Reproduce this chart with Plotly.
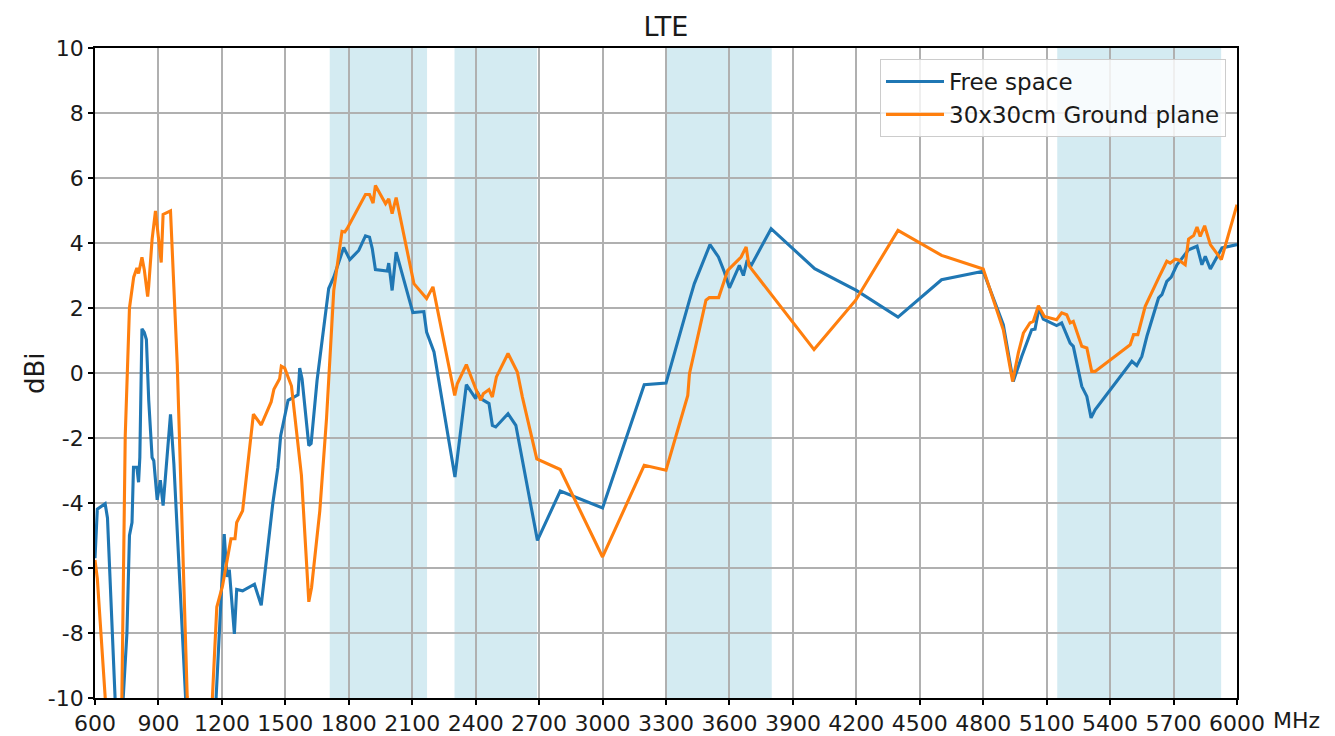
import plotly.graph_objects as go

# ---- data ----
free_freq = [600, 611, 648, 659, 695, 700, 728, 751, 763, 775, 782, 798, 806, 812, 822, 833, 843,
             854, 870, 878, 894, 909, 922, 957, 973, 1028, 1040, 1165, 1176, 1211, 1224, 1235,
             1259, 1270, 1298, 1354, 1386, 1441, 1465, 1478, 1513, 1560, 1568, 1579, 1611, 1622,
             1650, 1705, 1729, 1761, 1776, 1805, 1847, 1879, 1898, 1911, 1926, 1982, 1989, 2005,
             2024, 2061, 2103, 2155, 2168, 2203, 2302, 2356, 2400, 2408, 2424, 2463, 2479, 2495,
             2553, 2590, 2692, 2800, 3000, 3197, 3300, 3411, 3434, 3508, 3548, 3576, 3600, 3647,
             3666, 3684, 3703, 3797, 4003, 4200, 4397, 4603, 4800, 4895, 4942, 4982, 5029, 5045,
             5064, 5084, 5147, 5171, 5211, 5226, 5266, 5290, 5310, 5329, 5503, 5526, 5550, 5574,
             5629, 5645, 5668, 5689, 5716, 5771, 5811, 5834, 5850, 5874, 5929, 6000]
free_gain = [-5.7, -4.19, -4.02, -4.46, -10.0, -10.6, -10.6, -8.0, -5.0, -4.6, -2.9, -2.9, -3.36,
             -2.6, 1.36, 1.25, 1.03, -0.84, -2.6, -2.7, -3.9, -3.3, -4.08, -1.27, -2.8, -10.0,
             -11.5, -11.0, -9.5, -4.96, -6.27, -6.05, -8.03, -6.66, -6.7, -6.5, -7.15, -4.0,
             -2.9, -1.93, -0.84, -0.67, 0.15, -0.18, -2.23, -2.17, -0.23, 2.6, 2.95, 3.57, 3.86,
             3.49, 3.77, 4.22, 4.18, 3.83, 3.18, 3.14, 3.38, 2.54, 3.72, 2.85, 1.86, 1.89, 1.26,
             0.65, -3.2, -0.36, -0.79, -0.58, -0.79, -0.94, -1.61, -1.66, -1.25, -1.61, -5.15,
             -3.63, -4.15, -0.36, -0.31, 2.24, 2.75, 3.95, 3.57, 3.11, 2.62, 3.31, 3.0, 3.47,
             3.31, 4.44, 3.21, 2.54, 1.72, 2.87, 3.13, 1.49, -0.26, 0.51, 1.33, 1.35, 2.0, 1.66,
             1.46, 1.54, 0.92, 0.82, -0.41, -0.72, -1.38, -1.13, 0.36, 0.23, 0.51, 1.13, 2.31,
             2.41, 2.82, 2.95, 3.33, 3.79, 3.9, 3.33, 3.59, 3.2, 3.85, 3.95]

gp_freq = [600, 611, 648, 656, 722, 727, 743, 763, 783, 798, 806, 822, 833, 849, 854, 870, 886,
           913, 922, 957, 989, 1036, 1045, 1148, 1155, 1176, 1203, 1219, 1243, 1262, 1270, 1298,
           1349, 1386, 1433, 1446, 1473, 1481, 1497, 1529, 1576, 1611, 1624, 1663, 1695, 1729,
           1768, 1781, 1792, 1879, 1898, 1915, 1926, 1974, 1989, 2005, 2024, 2108, 2168, 2198,
           2301, 2313, 2356, 2403, 2424, 2436, 2463, 2479, 2498, 2553, 2597, 2621, 2689, 2800,
           3000, 3197, 3300, 3403, 3411, 3489, 3505, 3549, 3592, 3655, 3679, 3692, 3703, 4000,
           4197, 4397, 4603, 4800, 4895, 4939, 4966, 4990, 5021, 5037, 5061, 5089, 5147, 5171,
           5195, 5211, 5226, 5266, 5290, 5313, 5329, 5495, 5511, 5531, 5566, 5629, 5668, 5684,
           5708, 5724, 5755, 5771, 5795, 5811, 5826, 5847, 5874, 5926, 6000]
gp_gain = [-5.75, -6.33, -9.96, -10.8, -10.8, -10.0, -1.93, 2.0, 2.95, 3.23, 3.06, 3.56, 3.18,
           2.35, 2.68, 4.11, 4.99, 3.4, 4.88, 4.99, 0.26, -9.96, -11.0, -11.0, -10.0, -7.2,
           -6.55, -6.0, -5.1, -5.1, -4.6, -4.24, -1.27, -1.6, -0.89, -0.5, -0.18, 0.21, 0.15,
           -0.4, -3.14, -7.04, -6.6, -4.24, -1.38, 2.54, 4.36, 4.34, 4.44, 5.49, 5.49, 5.23,
           5.77, 5.21, 5.36, 4.9, 5.4, 2.75, 2.29, 2.65, -0.69, -0.33, 0.26, -0.53, -0.84,
           -0.64, -0.51, -0.74, -0.12, 0.6, 0.03, -0.74, -2.64, -2.97, -5.66, -2.84, -2.99,
           -0.69, -0.02, 2.24, 2.32, 2.32, 3.16, 3.57, 3.88, 3.31, 3.21, 0.72, 2.24, 4.39, 3.62,
           3.2, 1.33, -0.26, 0.62, 1.23, 1.54, 1.59, 2.07, 1.74, 1.64, 1.85, 1.79, 1.54, 1.59,
           0.82, 0.77, 0.05, 0.05, 0.87, 1.18, 1.18, 2.05, 2.92, 3.44, 3.38, 3.5, 3.48, 3.33,
           4.12, 4.23, 4.49, 4.2, 4.53, 3.95, 3.49, 5.18]

band_start = [1710, 2300, 3300, 5150]
band_end = [2170, 2690, 3800, 5925]

x_ticks = list(range(600, 6001, 300))
x_tick_labels = [str(v) for v in x_ticks]
y_ticks = list(range(-10, 11, 2))
y_tick_labels = [str(v) for v in y_ticks]

series_names = ["Free space", "30x30cm Ground plane"]
series_colors = ["#1f77b4", "#ff7f0e"]

FONT = "DejaVu Sans"
TXT = "#1a1a1a"

W, H = 1335, 736
ML, MT, MR, MB = 95, 48, 98, 38
PW, PH = W - ML - MR, H - MT - MB

fig = go.Figure()
fig.add_trace(go.Scatter(x=free_freq, y=free_gain, mode="lines", name=series_names[0],
                         line=dict(color=series_colors[0], width=3.1)))
fig.add_trace(go.Scatter(x=gp_freq, y=gp_gain, mode="lines", name=series_names[1],
                         line=dict(color=series_colors[1], width=3.1)))

for s, e in zip(band_start, band_end):
    fig.add_vrect(x0=s, x1=e, fillcolor="rgba(173,216,230,0.52)", line_width=0, layer="below")

axis_common = dict(showgrid=True, gridcolor="#b0b0b0", gridwidth=1.6,
                   showline=True, linecolor="black", linewidth=1.6, mirror=True,
                   ticks="outside", ticklen=5, tickwidth=1.6, tickcolor="black",
                   tickfont=dict(family=FONT, size=22, color=TXT), zeroline=False,
                   automargin=False)

fig.update_layout(
    width=W, height=H,
    margin=dict(l=ML, r=MR, t=MT, b=MB),
    paper_bgcolor="white", plot_bgcolor="white",
    font=dict(family=FONT, size=22, color=TXT),
    title=dict(text="LTE", x=(ML + PW / 2) / W, xanchor="center", y=1 - 27 / H,
               yanchor="middle", font=dict(family=FONT, size=27, color=TXT)),
    showlegend=True,
    legend=dict(x=(880 - ML) / PW, y=(MT + PH - 59) / PH, xanchor="left", yanchor="top",
                bgcolor="rgba(255,255,255,0.8)", bordercolor="#cccccc", borderwidth=1,
                itemwidth=58, font=dict(family=FONT, size=23, color=TXT)),
    xaxis=dict(range=[600, 6000], tickvals=x_ticks, ticktext=x_tick_labels, **axis_common),
    yaxis=dict(range=[-10, 10], tickvals=y_ticks, ticktext=y_tick_labels, **axis_common),
)

fig.add_annotation(text="dBi", xref="paper", yref="paper", x=(35 - ML) / PW, y=0.5,
                   xanchor="center", yanchor="middle", textangle=-90, showarrow=False,
                   font=dict(family=FONT, size=26, color=TXT))
fig.add_annotation(text="MHz", xref="paper", yref="paper", x=1.0, y=0, xanchor="left",
                   yanchor="top", xshift=34, yshift=-8, showarrow=False,
                   font=dict(family=FONT, size=22, color=TXT))

# remove the default 8px page margin so the figure sits at the window origin
fig.write_html("out.html", config={"displayModeBar": False},
               post_script="document.body.style.margin='0';document.body.style.overflow='hidden';")
